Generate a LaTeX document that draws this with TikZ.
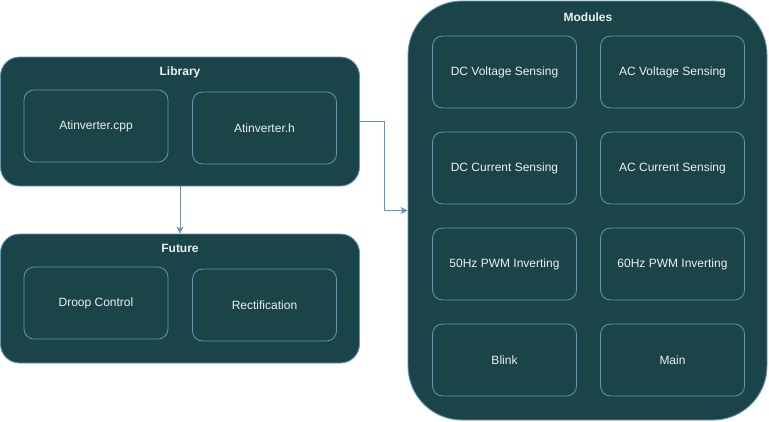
\documentclass[tikz,border=0pt]{standalone}
\usepackage{fontspec}
\setmainfont{Liberation Sans}
\usetikzlibrary{arrows.meta,positioning}
\definecolor{boxfill}{HTML}{1A4448}
\definecolor{boxline}{HTML}{6494B6}
\definecolor{boxtext}{HTML}{EEEEEE}
\tikzset{
  group/.style={draw=boxline, fill=boxfill, line width=0.9pt, minimum width=359pt, minimum height=129pt},
  item/.style={draw=boxline, fill=boxfill, line width=0.8pt, rounded corners=10pt,
    minimum width=144pt, minimum height=72pt, text=boxtext, font=\fontsize{12}{14}\selectfont},
  title/.style={text=boxtext, font=\bfseries\fontsize{12}{14}\selectfont},
  link/.style={draw=boxline, line width=0.9pt, -{Stealth[length=7pt,width=7pt,inset=2pt]}}
}
\begin{document}
\begin{tikzpicture}[x=1pt,y=-1pt]
	\useasboundingbox (0,0) rectangle (769,421);
	% Library
	\node[group, rounded corners=19pt] (lib) at (180,121.5) {};
	\node[title] (libt) at (180,72) {Library};
	\node[item] (cpp) at (96,126) {Atinverter.cpp};
	\node[item] (hdr) at (264.5,128) {Atinverter.h};
	% Future
	\node[group, rounded corners=19pt] (fut) at (180,298.5) {};
	\node[title] (futt) at (180,248) {Future};
	\node[item] (droop) at (96,303) {Droop Control};
	\node[item] (rect) at (264.5,305) {Rectification};
	% Modules
	\node[group, minimum height=419pt, rounded corners=54pt] (mod) at (587.5,210.5) {};
	\node[title] (modt) at (588,17) {Modules};
	\foreach \name/\txt/\col/\row in {dcv/DC Voltage Sensing/504.5/72, acv/AC Voltage Sensing/672.5/72,
		dci/DC Current Sensing/504.5/168, aci/AC Current Sensing/672.5/168,
		pwmf/50Hz PWM Inverting/504.5/264, pwms/60Hz PWM Inverting/672.5/264,
		blink/Blink/504.5/360, main/Main/672.5/360}
		\node[item] (\name) at (\col,\row) {\txt};
	% connectors
	\draw[link] (lib) -- (fut);
	\draw[link] (lib.east) -- ++(24,0) |- (mod.west);
\end{tikzpicture}
\end{document}
